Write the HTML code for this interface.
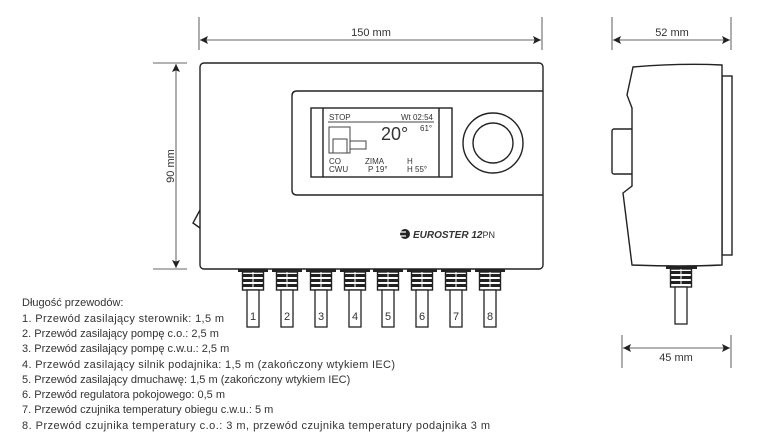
<!DOCTYPE html>
<html><head><meta charset="utf-8"><style>
html,body{margin:0;padding:0;background:#fff;width:771px;height:448px;overflow:hidden}
svg{display:block}
text{font-family:"Liberation Sans",sans-serif;fill:#333}
</style></head><body>
<svg width="771" height="448" viewBox="0 0 771 448" xmlns="http://www.w3.org/2000/svg">
<defs>
<marker id="a" viewBox="0 0 10 10" refX="10" refY="5" markerWidth="10" markerHeight="8" orient="auto-start-reverse" markerUnits="userSpaceOnUse"><path d="M0,0 L10,5 L0,10 L2,5z" fill="#222"/></marker>
<g id="gl">
<rect x="-15" y="269" width="30" height="3" fill="#222"/>
<rect x="-10.5" y="272" width="21" height="18" fill="#fff" stroke="#222" stroke-width="1.4"/>
<rect x="-10.5" y="274" width="21" height="3" fill="#222"/>
<rect x="-10.5" y="279" width="21" height="3" fill="#222"/>
<rect x="-10.5" y="284" width="21" height="3" fill="#222"/>
<line x1="0" y1="272" x2="0" y2="288" stroke="#fff" stroke-width="1"/>
<rect x="-6" y="290" width="12" height="37" fill="#fff" stroke="#222" stroke-width="1.3"/>
</g>
</defs>
<g stroke="#333" stroke-width="0.8" fill="none">
<line x1="199" y1="17" x2="199" y2="50"/><line x1="542" y1="17" x2="542" y2="50"/>
<line x1="200" y1="40" x2="541" y2="40" marker-start="url(#a)" marker-end="url(#a)"/>
<line x1="153" y1="63" x2="187" y2="63"/><line x1="153" y1="269" x2="187" y2="269"/>
<line x1="176" y1="64" x2="176" y2="268" marker-start="url(#a)" marker-end="url(#a)"/>
<line x1="612" y1="17" x2="612" y2="50"/><line x1="731" y1="17" x2="731" y2="50"/>
<line x1="613" y1="40" x2="730" y2="40" marker-start="url(#a)" marker-end="url(#a)"/>
<line x1="622" y1="335" x2="622" y2="368"/><line x1="731" y1="335" x2="731" y2="368"/>
<line x1="623" y1="348" x2="730" y2="348" marker-start="url(#a)" marker-end="url(#a)"/>
</g>
<text x="371" y="36" font-size="11" text-anchor="middle">150 mm</text>
<text x="672" y="36" font-size="11" text-anchor="middle">52 mm</text>
<text x="676" y="361" font-size="11" text-anchor="middle">45 mm</text>
<text transform="translate(174,166) rotate(-90)" font-size="11" text-anchor="middle">90 mm</text>
<g stroke="#222" fill="#fff" stroke-width="1.4">
<rect x="200" y="63" width="343" height="206" rx="4"/>
<path d="M200,210 L193,223 L200,228" fill="none"/>
<path d="M543,91 L297,91 Q292,91 292,96 L292,190 Q292,195 297,195 L543,195" fill="none"/>
<rect x="311" y="108" width="141" height="69"/>
<line x1="323" y1="108" x2="323" y2="177"/><line x1="439" y1="108" x2="439" y2="177"/>
<circle cx="493" cy="143" r="30"/><circle cx="493" cy="143" r="20"/>
</g>
<g stroke="#444" fill="none" stroke-width="1">
<line x1="328" y1="122" x2="434" y2="122"/>
<rect x="329" y="127" width="21" height="26"/>
<rect x="333" y="139" width="14" height="14"/>
<path d="M350,141 L366,141 L366,149 L350,149"/>
</g>
<g font-family="Liberation Mono,monospace" font-size="8">
<text x="329" y="120">STOP</text><text x="433" y="120" text-anchor="end">Wt 02:54</text>
<text x="420" y="131">61°</text>
<text x="329" y="164">CO</text><text x="329" y="172">CWU</text>
<text x="365" y="164">ZIMA</text><text x="368" y="172">P 19°</text>
<text x="407" y="164">H</text><text x="407" y="172">H 55°</text>
</g>
<text x="381" y="140" font-size="18">20°</text>
<circle cx="405" cy="234" r="5" fill="#222"/>
<path d="M399,232 h7 M399,236 h7" stroke="#fff" stroke-width="1.2"/>
<text x="413" y="238" font-size="10" font-weight="bold" font-style="italic" fill="#222">EUROSTER <tspan>12</tspan><tspan font-weight="normal" font-style="normal" font-size="9">PN</tspan></text>
<use href="#gl" x="253"/><use href="#gl" x="287"/><use href="#gl" x="321"/><use href="#gl" x="355"/>
<use href="#gl" x="388"/><use href="#gl" x="422"/><use href="#gl" x="456"/><use href="#gl" x="490"/>
<g font-size="11" text-anchor="middle">
<text x="253" y="320">1</text><text x="287" y="320">2</text><text x="321" y="320">3</text><text x="355" y="320">4</text>
<text x="388" y="320">5</text><text x="422" y="320">6</text><text x="456" y="320">7</text><text x="490" y="320">8</text>
</g>
<g stroke="#222" fill="#fff" stroke-width="1.4">
<rect x="722" y="76" width="10" height="179"/>
<rect x="612" y="129" width="22" height="45" rx="2"/>
<path d="M633,67 Q680,63 722,65 L722,265 Q680,267 632,265 L623,193 L632,186 L632,108 L627,95 Z"/>
</g>
<use href="#gl" x="681" y="-3"/>
<rect x="666" y="266" width="31" height="3" fill="#222"/>
<g font-size="11">
<text x="22" y="306">Długość przewodów:</text>
<text x="22" y="322" textLength="202">1. Przewód zasilający sterownik: 1,5 m</text>
<text x="22" y="337">2. Przewód zasilający pompę c.o.: 2,5 m</text>
<text x="22" y="352">3. Przewód zasilający pompę c.w.u.: 2,5 m</text>
<text x="22" y="368" textLength="373">4. Przewód zasilający silnik podajnika: 1,5 m (zakończony wtykiem IEC)</text>
<text x="22" y="383">5. Przewód zasilający dmuchawę: 1,5 m (zakończony wtykiem IEC)</text>
<text x="22" y="398">6. Przewód regulatora pokojowego: 0,5 m</text>
<text x="22" y="413">7. Przewód czujnika temperatury obiegu c.w.u.: 5 m</text>
<text x="22" y="429" textLength="468">8. Przewód czujnika temperatury c.o.: 3 m, przewód czujnika  temperatury podajnika 3 m</text>
</g>
</svg>
</body></html>
